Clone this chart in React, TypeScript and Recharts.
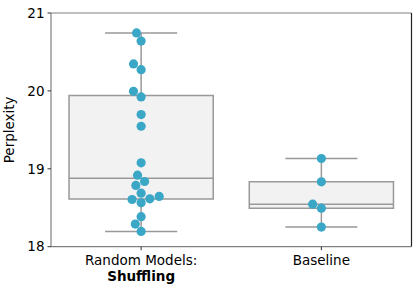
import { ComposedChart, XAxis, YAxis, Scatter, ReferenceArea, ReferenceLine } from "recharts"

// category labels (second line of the first one is bold in the original)
const categoryLines = [["Random Models:", "Shuffling"], ["Baseline"]]

const shufflingPerplexity = [
  20.744, 20.64, 20.346, 20.273, 19.995, 19.923, 19.696, 19.546, 19.077, 18.918,
  18.837, 18.786, 18.687, 18.645, 18.615, 18.606, 18.564, 18.385, 18.29, 18.196,
]
const baselinePerplexity = [19.132, 18.833, 18.546, 18.495, 18.252]

const yTicks = [18, 19, 20, 21]

const W = 419
const H = 292
const margin = { top: 13, right: 7.5, bottom: 0, left: 0 }
const Y_AXIS_W = 51
const X_AXIS_H = 45.3
const plotW = W - margin.left - margin.right - Y_AXIS_W
const plotH = H - margin.top - margin.bottom - X_AXIS_H

const DOT_R = 4.6
const DOT_COLOR = "#3ba7c6"
const BOX_EDGE = "#999999"
const BOX_FILL = "#f2f2f2"

function quantile(sorted: number[], q: number) {
  const pos = (sorted.length - 1) * q
  const lo = Math.floor(pos)
  const hi = Math.ceil(pos)
  return sorted[lo] + (sorted[hi] - sorted[lo]) * (pos - lo)
}

function boxStats(values: number[]) {
  const s = [...values].sort((a, b) => a - b)
  return { min: s[0], q1: quantile(s, 0.25), med: quantile(s, 0.5), q3: quantile(s, 0.75), max: s[s.length - 1] }
}

// seaborn-style beeswarm, done in pixel space then mapped back to x data units
function swarm(values: number[], center: number) {
  const pxX = plotW / 2
  const pxY = plotH / (yTicks[yTicks.length - 1] - yTicks[0])
  const pts = values.map((v) => ({ v, y: v * pxY })).sort((a, b) => a.y - b.y)
  const placed: { x: number; y: number; v: number }[] = []
  const d = 2 * DOT_R
  for (const p of pts) {
    if (!placed.length) {
      placed.push({ x: 0, y: p.y, v: p.v })
      continue
    }
    const neighbors: { x: number; y: number }[] = []
    for (let j = placed.length - 1; j >= 0; j--) {
      if (p.y - placed[j].y < d) neighbors.unshift(placed[j])
      else break
    }
    const cands = [0]
    let leftFirst = true
    for (const n of neighbors) {
      const dy = p.y - n.y
      const dx = Math.sqrt(Math.max(d * d - dy * dy, 0)) * 1.05
      const l = n.x - dx
      const r = n.x + dx
      cands.push(...(leftFirst ? [l, r] : [r, l]))
      leftFirst = !leftFirst
    }
    cands.sort((a, b) => Math.abs(a) - Math.abs(b))
    let chosen = cands[cands.length - 1]
    for (const c of cands) {
      const ok = neighbors.every((n) => (n.x - c) ** 2 + (n.y - p.y) ** 2 >= d * d - 1e-9)
      if (ok) {
        chosen = c
        break
      }
    }
    placed.push({ x: chosen, y: p.y, v: p.v })
  }
  return placed.map((p) => ({ x: center + p.x / pxX, y: p.v }))
}

const groups = [shufflingPerplexity, baselinePerplexity]
const stats = groups.map(boxStats)
const points = groups.flatMap((g, i) => swarm(g, i))

function CategoryTick({ x, y, payload }: any) {
  const lines = categoryLines[payload.value] || []
  return (
    <text x={x} y={y} textAnchor="middle" fontSize={13.5} fill="#000">
      {lines.map((t, i) => (
        <tspan key={i} x={x} dy={i === 0 ? 12.8 : 16} fontWeight={i === 1 ? "bold" : "normal"}>
          {t}
        </tspan>
      ))}
    </text>
  )
}

function YLabel({ viewBox }: any) {
  const cy = viewBox ? viewBox.y + viewBox.height / 2 : 130
  return (
    <text x={14.5} y={cy} transform={`rotate(-90, 14.5, ${cy})`} textAnchor="middle" fontSize={13.5} fill="#000">
      Perplexity
    </text>
  )
}

export default function App() {
  return (
    <div style={{ position: "absolute", left: 0, top: 0, fontFamily: "DejaVu Sans", background: "#fff" }}>
      <ComposedChart width={W} height={H} margin={margin}>
        <XAxis
          dataKey="x"
          type="number"
          domain={[-0.5, 1.5]}
          ticks={[0, 1]}
          interval={0}
          height={X_AXIS_H}
          allowDataOverflow
          tick={<CategoryTick />}
          tickSize={3.5}
          tickMargin={2}
          axisLine={{ stroke: "#808080", strokeWidth: 1.2 }}
          tickLine={{ stroke: "#333", strokeWidth: 1 }}
        />
        <YAxis
          dataKey="y"
          type="number"
          domain={[18, 21]}
          ticks={yTicks}
          width={Y_AXIS_W}
          allowDataOverflow
          tickSize={3.5}
          tickMargin={3}
          tick={{ fill: "#000", fontSize: 13.5 }}
          axisLine={{ stroke: "#808080", strokeWidth: 1.2 }}
          tickLine={{ stroke: "#333", strokeWidth: 1 }}
          label={<YLabel />}
        />
        <ReferenceLine y={21} stroke="#808080" strokeWidth={1.2} />
        <ReferenceLine x={1.5} stroke="#222" strokeWidth={1.2} />
        {stats.map((s, i) => (
          <ReferenceArea
            key={`box${i}`}
            x1={i - 0.4}
            x2={i + 0.4}
            y1={s.q1}
            y2={s.q3}
            fill={BOX_FILL}
            fillOpacity={1}
            stroke={BOX_EDGE}
            strokeWidth={1.5}
          />
        ))}
        {stats.flatMap((s, i) => [
          <ReferenceLine key={`med${i}`} segment={[{ x: i - 0.4, y: s.med }, { x: i + 0.4, y: s.med }]} stroke={BOX_EDGE} strokeWidth={1.5} />,
          <ReferenceLine key={`wl${i}`} segment={[{ x: i, y: s.min }, { x: i, y: s.q1 }]} stroke={BOX_EDGE} strokeWidth={1.5} />,
          <ReferenceLine key={`wh${i}`} segment={[{ x: i, y: s.q3 }, { x: i, y: s.max }]} stroke={BOX_EDGE} strokeWidth={1.5} />,
          <ReferenceLine key={`cl${i}`} segment={[{ x: i - 0.2, y: s.min }, { x: i + 0.2, y: s.min }]} stroke={BOX_EDGE} strokeWidth={1.5} />,
          <ReferenceLine key={`ch${i}`} segment={[{ x: i - 0.2, y: s.max }, { x: i + 0.2, y: s.max }]} stroke={BOX_EDGE} strokeWidth={1.5} />,
        ])}
        <Scatter
          data={points}
          dataKey="y"
          isAnimationActive={false}
          shape={(p: any) => <circle cx={p.cx} cy={p.cy} r={DOT_R} fill={DOT_COLOR} />}
        />
      </ComposedChart>
    </div>
  )
}
